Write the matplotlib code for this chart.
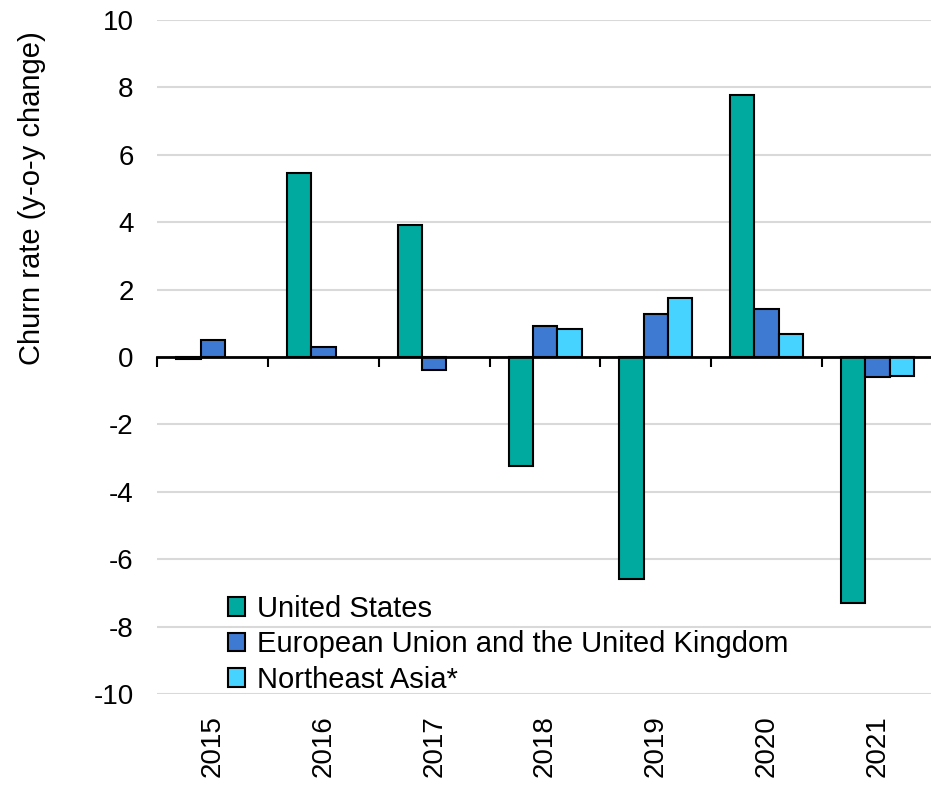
import matplotlib
matplotlib.use("Agg")
import matplotlib.pyplot as plt
import numpy as np

years = ["2015", "2016", "2017", "2018", "2019", "2020", "2021"]
series_names = ["United States", "European Union and the United Kingdom", "Northeast Asia*"]
us = [-0.05, 5.45, 3.93, -3.23, -6.6, 7.78, -7.3]
eu = [0.49, 0.31, -0.38, 0.91, 1.29, 1.43, -0.6]
nea = [np.nan, np.nan, np.nan, 0.83, 1.75, 0.69, -0.56]
colors = ["#00AA9F", "#3F7AD2", "#47D3FF"]
yticks = [-10, -8, -6, -4, -2, 0, 2, 4, 6, 8, 10]

plt.rcParams['font.family'] = ['Liberation Sans', 'DejaVu Sans']

fig = plt.figure(figsize=(9.31, 7.85), dpi=100)
ax = fig.add_axes([0.169, 0.116, 0.833, 0.8585])

x = np.arange(len(years))
w = 0.22
for i, (vals, name, c) in enumerate(zip([us, eu, nea], series_names, colors)):
    ax.bar(x + (i - 1) * w, vals, width=w, color=c, edgecolor="black",
           linewidth=1.5, label=name, zorder=3)

ax.set_xlim(-0.5, len(years) - 0.5)
ax.set_ylim(-10, 10)
ax.set_yticks(yticks)
ax.set_yticklabels([str(v) for v in yticks])
ax.tick_params(axis='y', length=0, pad=17, labelsize=20)
ax.yaxis.grid(True, color="#d9d9d9", linewidth=1.5, zorder=0)
ax.set_axisbelow(True)

for s in ['left', 'right', 'top']:
    ax.spines[s].set_visible(False)
ax.spines['bottom'].set_position(('data', 0))
ax.spines['bottom'].set_linewidth(2)
ax.spines['bottom'].set_zorder(4)
ax.set_xticks(x)
ax.set_xticks(np.arange(len(years) + 1) - 0.5, minor=True)
ax.tick_params(axis='x', which='major', length=0, labelbottom=False)
ax.tick_params(axis='x', which='minor', length=7, width=1.5, direction='out')

sec = ax.secondary_xaxis('bottom')
sec.set_xticks(x)
sec.set_xticklabels(years, rotation=90)
sec.tick_params(length=0, pad=15, labelsize=20)
sec.spines['bottom'].set_visible(False)

ax.set_ylabel("Churn rate (y-o-y change)", fontsize=21)
ax.yaxis.set_label_coords(-0.144, 0.736)

leg = ax.legend(loc='lower left', bbox_to_anchor=(0.0755, -0.0167), frameon=False,
                fontsize=21, handlelength=0.6, handleheight=0.6,
                handletextpad=0.4, labelspacing=0.25, borderaxespad=0.0)

fig.savefig("out.png", dpi=100)
